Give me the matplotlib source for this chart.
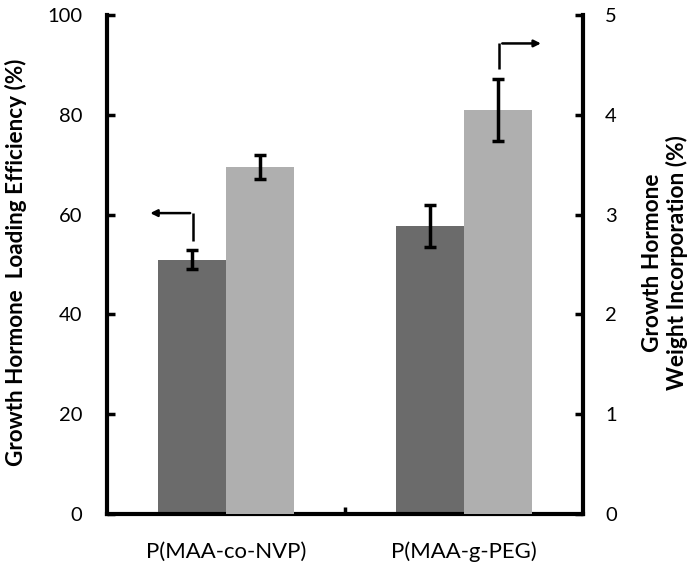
import matplotlib
matplotlib.use("Agg")
import matplotlib.pyplot as plt
import numpy as np

plt.rcParams['font.family'] = ['Lato', 'DejaVu Sans']

categories = ["P(MAA-co-NVP)", "P(MAA-g-PEG)"]
loading_eff = [51.0, 57.8]          # left axis, %
loading_err = [1.9, 4.2]
weight_inc = [3.48, 4.05]           # right axis, %
weight_err = [0.12, 0.31]

dark = "#6b6b6b"
light = "#afafaf"

fig = plt.figure(figsize=(6.98, 5.68), dpi=100)
ax = fig.add_axes([107/698, 1-514/568, (583-107)/698, (514-15)/568])
ax2 = ax.twinx()

x = np.arange(len(categories))
w = 0.287

ax.bar(x - w/2, loading_eff, w, color=dark, zorder=2)
ax.errorbar(x - w/2, loading_eff, yerr=loading_err, fmt='none', ecolor='black',
            elinewidth=2.5, capsize=4, capthick=2.5, zorder=3)
ax2.bar(x + w/2, weight_inc, w, color=light, zorder=2)
ax2.errorbar(x + w/2, weight_inc, yerr=weight_err, fmt='none', ecolor='black',
             elinewidth=2.5, capsize=4, capthick=2.5, zorder=3)

ax.set_xlim(-0.5, 1.5)
ax.set_ylim(0, 100)
ax2.set_ylim(0, 5)
ax.set_yticks([0, 20, 40, 60, 80, 100])
ax2.set_yticks([0, 1, 2, 3, 4, 5])
ax.set_xticks([0.5], minor=False)
ax.set_xticklabels([""])
ax.set_xticks(x, minor=True)
ax.set_xticklabels(categories, minor=True, fontsize=15)
ax.tick_params(axis='x', which='major', direction='in', length=5, width=2.5)
ax.tick_params(axis='x', which='minor', length=0, pad=20)

for a in (ax, ax2):
    a.spines['top'].set_visible(False)
    for s in ('left', 'right', 'bottom'):
        a.spines[s].set_linewidth(3)
ax.spines['right'].set_visible(False)
ax2.spines['left'].set_visible(False)
ax2.spines['bottom'].set_visible(False)

ax.tick_params(axis='y', direction='in', length=6, width=2.5, labelsize=14.5, pad=18)
ax2.tick_params(axis='y', direction='in', length=6, width=2.5, labelsize=14.5, pad=16)

ylab = ax.set_ylabel("Growth Hormone  Loading Efficiency (%)", fontsize=15, fontweight='bold')
ylab2 = ax2.set_ylabel("Growth Hormone\nWeight Incorporation (%)", fontsize=15, fontweight='bold',
                       rotation=90, linespacing=1.15)

# fit label sizes to the reference's text lengths (pixels)
fig.canvas.draw()
r = fig.canvas.get_renderer()
def fit(txt, target, horiz=False):
    bb = txt.get_window_extent(r)
    cur = bb.width if horiz else bb.height
    txt.set_fontsize(txt.get_fontsize() * target / cur)
fit(ylab, 409)
ylab2_probe = fig.text(0, 0, "Weight Incorporation (%)", fontsize=15, fontweight='bold')
fig.canvas.draw()
bb = ylab2_probe.get_window_extent(r)
ylab2.set_fontsize(15 * 257 / bb.width)
ylab2_probe.remove()
xl = ax.get_xticklabels(minor=True)[0]
bbx = xl.get_window_extent(r)
xs = 15 * 160 / bbx.width
ax.tick_params(axis='x', which='minor', labelsize=xs)

# position labels (axes coordinates, from pixel centres)
ax.yaxis.set_label_coords((16 - 107) / 476, 0.5 + (514 - 262 - 249.5) / 499)
ylab.set_va('center')
ax2.yaxis.set_label_coords((665 - 107) / 476, 0.5 + (514 - 263 - 249.5) / 499)
ylab2.set_va('center')

# arrows indicating axes
ax.annotate("", xy=(-0.33, 60.3), xytext=(-0.139, 60.3),
            arrowprops=dict(arrowstyle='-|>', color='black', lw=1.8, mutation_scale=10))
ax.plot([-0.139, -0.139], [54.8, 60.3], color='black', lw=1.8, solid_capstyle='butt')
ax.annotate("", xy=(1.335, 94.3), xytext=(1.149, 94.3),
            arrowprops=dict(arrowstyle='-|>', color='black', lw=1.8, mutation_scale=10))
ax.plot([1.149, 1.149], [89.1, 94.3], color='black', lw=1.8, solid_capstyle='butt')

fig.savefig("out.png", dpi=100)
